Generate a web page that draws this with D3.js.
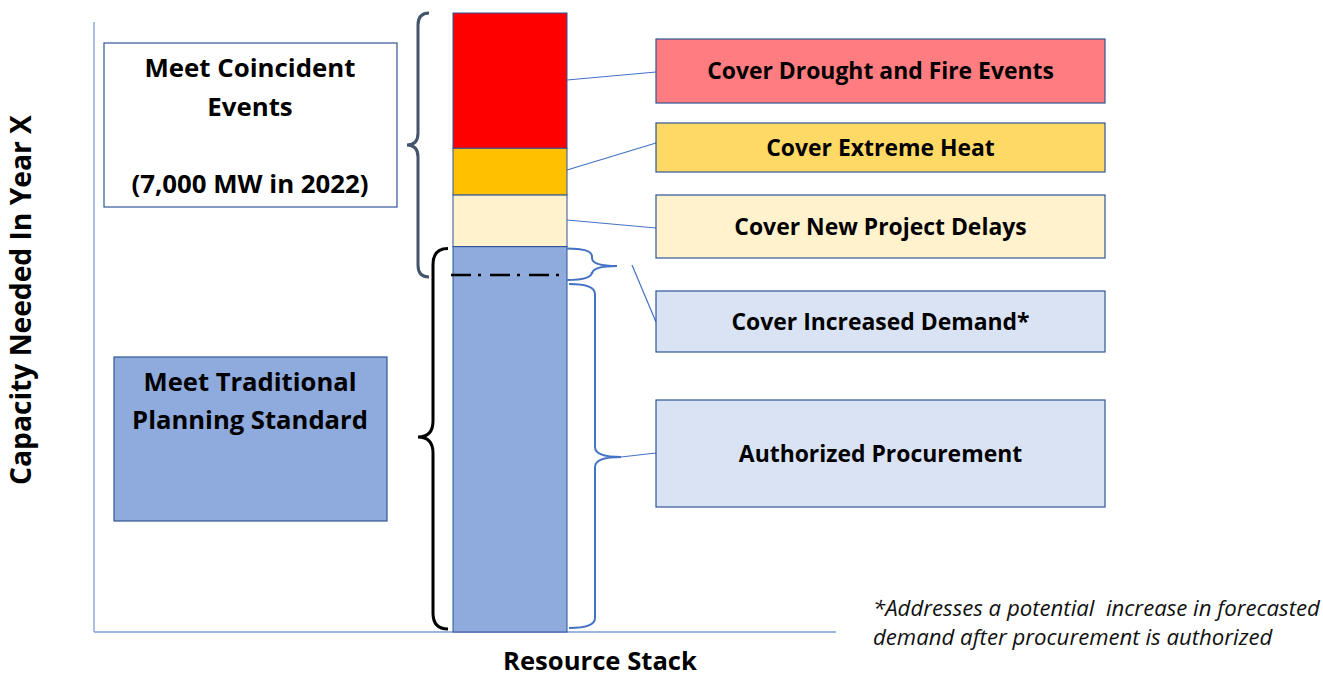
<!DOCTYPE html>
<html>
<head>
<meta charset="utf-8">
<script src="https://cdn.jsdelivr.net/npm/d3@7"></script>
<style>
  html, body { margin: 0; padding: 0; background: #fff; }
  svg { display: block; font-family: "Open Sans", Lato, sans-serif; }
</style>
</head>
<body>
<svg id="chart" width="1323" height="677"></svg>
<script>
// stack segments, bottom to top (MW; coincident part = 7,000 MW)
const segments = ["Authorized Procurement", "Cover Increased Demand*", "Cover New Project Delays", "Cover Extreme Heat", "Cover Drought and Fire Events"];
const valuesMW = [10700, 850, 1550, 1400, 4050];
const barFills = ["#8FAADC", "#8FAADC", "#FFF2CC", "#FFC000", "#FF0000"];
const labelFills = ["#DAE3F3", "#DAE3F3", "#FFF2CC", "#FFD966", "#FF7C80"];

const coincidentLines = ["Meet Coincident", "Events", "", "(7,000 MW in 2022)"];
const traditionalLines = ["Meet Traditional", "Planning Standard"];
const footnote = ["*Addresses a potential  increase in forecasted", "demand after procurement is authorized"];

const svg = d3.select("#chart");

// shrink/grow a group of texts so the first one spans the target width
function fitSize(sel, base, target) {
  sel.attr("font-size", base);
  const w = sel.node().getComputedTextLength();
  sel.attr("font-size", (base * target / w).toFixed(2));
}

// stacked cumulative values
let acc = 0;
const stack = valuesMW.map((v, i) => {
  const d = { name: segments[i], y0: acc, y1: acc + v, fill: barFills[i], label: labelFills[i] };
  acc += v;
  return d;
});
const total = acc;

const y = d3.scaleLinear().domain([0, total]).range([632, 13]);

// axes (plain lines, no ticks)
svg.append("line").attr("x1", 94).attr("x2", 94).attr("y1", 22).attr("y2", 632)
  .attr("stroke", "#7F9CD4").attr("stroke-width", 1.3);
svg.append("line").attr("x1", 94).attr("x2", 836).attr("y1", 632).attr("y2", 632)
  .attr("stroke", "#7F9CD4").attr("stroke-width", 1.3);

const bx0 = 453, bx1 = 567;

// bar segments (the two blue ones merge)
svg.append("g").selectAll("rect")
  .data(stack)
  .join("rect")
  .attr("x", bx0)
  .attr("width", bx1 - bx0)
  .attr("y", d => y(d.y1))
  .attr("height", d => y(d.y0) - y(d.y1))
  .attr("fill", d => d.fill)
  .attr("stroke", d => d.fill === "#8FAADC" ? "none" : "#2F5597")
  .attr("stroke-width", 1);

// outline for the blue block
const blueTop = stack[1].y1;
svg.append("rect").attr("x", bx0).attr("width", bx1 - bx0)
  .attr("y", y(blueTop)).attr("height", y(0) - y(blueTop))
  .attr("fill", "none").attr("stroke", "#2F5597").attr("stroke-width", 1);

// dash-dot line at top of authorized procurement
svg.append("line").attr("x1", bx0 - 2).attr("x2", bx1 - 7)
  .attr("y1", y(stack[0].y1)).attr("y2", y(stack[0].y1))
  .attr("stroke", "#000").attr("stroke-width", 2.5)
  .attr("stroke-dasharray", "20,7,3,9");

// curly brace path: xe = arm ends, dir = tip direction, d = depth
function brace(xe, ya, yb, ym, dir, d, r) {
  const xs = xe + dir * d / 2, xt = xe + dir * d;
  return `M${xe},${ya} Q${xs},${ya} ${xs},${ya + r} L${xs},${ym - r} Q${xs},${ym} ${xt},${ym}` +
    ` Q${xs},${ym} ${xs},${ym + r} L${xs},${yb - r} Q${xs},${yb} ${xe},${yb}`;
}

// gray brace: coincident events
const coinTop = y(total), coinBot = y(stack[0].y1) + 2;
svg.append("path").attr("d", brace(429, coinTop, coinBot, 145, -1, 22, 12))
  .attr("fill", "none").attr("stroke", "#44546A").attr("stroke-width", 3);

// black brace: traditional planning standard
svg.append("path").attr("d", brace(448, y(blueTop) + 2, y(0) - 3, 437, -1, 30, 16))
  .attr("fill", "none").attr("stroke", "#000").attr("stroke-width", 3);

// blue braces on the right
svg.append("path").attr("d", brace(567, y(blueTop) + 2, y(stack[0].y1) + 5, 266, 1, 50, 8))
  .attr("fill", "none").attr("stroke", "#4472C4").attr("stroke-width", 2);
svg.append("path").attr("d", brace(569, y(stack[0].y1) + 9, y(0) - 4, 457, 1, 52, 10))
  .attr("fill", "none").attr("stroke", "#4472C4").attr("stroke-width", 2);

// label boxes on the right (top to bottom)
const boxes = [
  { i: 4, y0: 39, y1: 103, from: [bx1, 80], to: [656, 72] },
  { i: 3, y0: 123, y1: 172, from: [bx1, 170], to: [656, 143] },
  { i: 2, y0: 195, y1: 258, from: [bx1, 220], to: [656, 228] },
  { i: 1, y0: 291, y1: 352, from: [632, 265], to: [656, 322] },
  { i: 0, y0: 400, y1: 507, from: [621, 457], to: [656, 453] }
];
const lx0 = 656, lx1 = 1105;

const lab = svg.append("g").selectAll("g").data(boxes).join("g");
lab.append("line")
  .attr("x1", d => d.from[0]).attr("y1", d => d.from[1])
  .attr("x2", d => d.to[0]).attr("y2", d => d.to[1])
  .attr("stroke", "#4472C4").attr("stroke-width", 1.2);
lab.append("rect")
  .attr("x", lx0).attr("width", lx1 - lx0)
  .attr("y", d => d.y0).attr("height", d => d.y1 - d.y0)
  .attr("fill", d => stack[d.i].label)
  .attr("stroke", "#2F5597").attr("stroke-width", 1.2);
const labText = lab.append("text")
  .attr("x", (lx0 + lx1) / 2)
  .attr("y", d => (d.y0 + d.y1) / 2 + 8)
  .attr("text-anchor", "middle")
  .attr("font-weight", 700).attr("fill", "#000")
  .text(d => stack[d.i].name);
fitSize(labText, 20, 347);

// left boxes
svg.append("rect").attr("x", 104).attr("y", 43).attr("width", 293).attr("height", 164)
  .attr("fill", "#fff").attr("stroke", "#2F5597").attr("stroke-width", 1.2);
const coinText = svg.append("g").selectAll("text").data(coincidentLines).join("text")
  .attr("x", 250).attr("y", (d, i) => 77 + i * 38.5)
  .attr("text-anchor", "middle").attr("font-weight", 700).attr("fill", "#000")
  .text(d => d);
fitSize(coinText, 24, 211);

svg.append("rect").attr("x", 114).attr("y", 357).attr("width", 273).attr("height", 164)
  .attr("fill", "#8FAADC").attr("stroke", "#2F5597").attr("stroke-width", 1.2);
const tradText = svg.append("g").selectAll("text").data(traditionalLines).join("text")
  .attr("x", 250).attr("y", (d, i) => 391 + i * 38)
  .attr("text-anchor", "middle").attr("font-weight", 700).attr("fill", "#000")
  .text(d => d);
fitSize(tradText, 24, 213);

// axis titles
const yTitle = svg.append("text")
  .attr("transform", "translate(31,300) rotate(-90)")
  .attr("text-anchor", "middle").attr("font-weight", 700)
  .text("Capacity Needed In Year X");
fitSize(yTitle, 24, 370);
const xTitle = svg.append("text")
  .attr("x", 600).attr("y", 670)
  .attr("text-anchor", "middle").attr("font-weight", 700)
  .text("Resource Stack");
fitSize(xTitle, 24, 194);

// footnote
const foot = svg.append("g").selectAll("text").data(footnote).join("text")
  .attr("x", 873).attr("y", (d, i) => 616 + i * 29)
  .attr("font-style", "italic").attr("fill", "#111")
  .style("white-space", "pre")
  .text(d => d);
fitSize(foot, 20, 447);
</script>
</body>
</html>
